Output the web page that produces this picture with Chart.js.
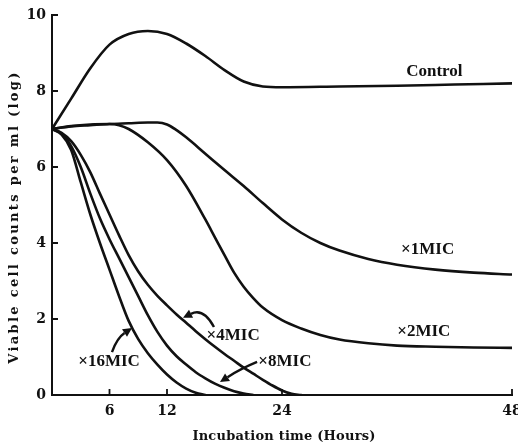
<!DOCTYPE html>
<html>
<head>
<meta charset="utf-8">
<script src="https://cdn.jsdelivr.net/npm/chart.js@4.4.1/dist/chart.umd.min.js"></script>
<style>
  html, body { margin: 0; padding: 0; background: #fff; }
  #wrap { width: 518px; height: 447px; }
</style>
</head>
<body>
<div id="wrap"><canvas id="c" width="518" height="447"></canvas></div>
<script>
// ---- data ----
const controlX = [0,2,4,6,8,10,12,14,16,18,20,22,24,30,36,42,48];
const controlY = [7,7.8,8.6,9.22,9.5,9.58,9.5,9.25,8.92,8.55,8.25,8.12,8.1,8.12,8.14,8.17,8.2];

const mic1X = [0,2,4,6,8,10,11,12,13,14,16,18,20,22,24,26,28,30,33,36,40,44,48];
const mic1Y = [7,7.07,7.1,7.13,7.15,7.17,7.17,7.12,6.97,6.78,6.35,5.92,5.5,5.05,4.62,4.27,4.0,3.8,3.58,3.43,3.3,3.22,3.17];

const mic2X = [0,2,4,6,7,8,10,12,14,16,17,18,19,20,21,22,24,26,28,30,33,36,40,44,48];
const mic2Y = [7,7.08,7.12,7.13,7.1,7.0,6.65,6.18,5.5,4.62,4.15,3.68,3.22,2.85,2.55,2.3,1.97,1.75,1.58,1.46,1.36,1.3,1.27,1.25,1.24];

const mic4X = [0,1,2,3,4,5,6,7,8,9,10,11,12,13,14,15,16,17,18,19,20,21,22,23,24,25,26];
const mic4Y = [7,6.9,6.68,6.32,5.86,5.3,4.75,4.2,3.68,3.25,2.9,2.61,2.36,2.12,1.9,1.68,1.47,1.27,1.08,0.9,0.72,0.56,0.4,0.25,0.12,0.03,0];

const mic8X = [0,1,2,3,4,5,6,7,8,9,10,11,12,13,14,15,16,17,18,19,20,21];
const mic8Y = [7,6.88,6.55,6.0,5.3,4.65,4.1,3.6,3.1,2.6,2.1,1.66,1.3,1.02,0.8,0.6,0.44,0.3,0.19,0.1,0.04,0];

const mic16X = [0,1,2,3,4,5,6,7,8,9,10,11,12,13,14,15,16];
const mic16Y = [7,6.85,6.45,5.6,4.75,4.0,3.3,2.6,1.95,1.47,1.1,0.8,0.54,0.33,0.17,0.06,0];

const xTicks = [6,12,24,48];
const yTicks = [0,2,4,6,8,10];

const curveLabels = ['Control','\u00d71MIC','\u00d72MIC','\u00d74MIC','\u00d78MIC','\u00d716MIC'];
const curveLabelX = [39.9, 39.2, 38.8, 18.9, 24.3, 5.95];
const curveLabelY = [8.5, 3.82, 1.66, 1.55, 0.89, 0.87];

// arrows: tail, control, head (data units)
const arrowTailX = [6.26, 16.9, 21.4];
const arrowTailY = [1.13, 1.79, 0.87];
const arrowCtrlX = [6.8, 15.8, 19.6];
const arrowCtrlY = [1.5, 2.3, 0.68];
const arrowHeadX = [8.35, 13.67, 17.53];
const arrowHeadY = [1.76, 2.03, 0.34];

const xTitle = 'Incubation time (Hours)';
const yTitle = 'Viable cell counts per ml (log)';

function pts(xs, ys) { return xs.map((x, i) => ({ x: x, y: ys[i] })); }

const INK = '#111';
const FONT = '"Liberation Serif", "DejaVu Serif", serif';
const FONT2 = '"DejaVu Serif", "Liberation Serif", serif';

function ds(label, xs, ys) {
  return {
    label: label,
    data: pts(xs, ys),
    borderColor: INK,
    borderWidth: 2.6,
    pointRadius: 0,
    fill: false,
    cubicInterpolationMode: 'monotone',
    borderCapStyle: 'round',
    borderJoinStyle: 'round'
  };
}

const decorPlugin = {
  id: 'decor',
  afterDraw(chart) {
    const ctx = chart.ctx;
    const xs = chart.scales.x, ys = chart.scales.y;
    const area = chart.chartArea;
    ctx.save();
    ctx.strokeStyle = INK;
    ctx.fillStyle = INK;
    // inside tick marks
    ctx.lineWidth = 1.8;
    ctx.beginPath();
    yTicks.forEach(v => {
      if (v === 0) return;
      const py = ys.getPixelForValue(v);
      ctx.moveTo(area.left, py);
      ctx.lineTo(area.left + 6, py);
    });
    xTicks.forEach(v => {
      const px = xs.getPixelForValue(v);
      ctx.moveTo(px, area.bottom);
      ctx.lineTo(px, area.bottom - 6);
    });
    ctx.stroke();

    // curve labels
    ctx.font = 'bold 17px ' + FONT;
    ctx.textAlign = 'center';
    ctx.textBaseline = 'middle';
    curveLabels.forEach((t, i) => {
      ctx.fillText(t, xs.getPixelForValue(curveLabelX[i]), ys.getPixelForValue(curveLabelY[i]));
    });

    // arrows
    ctx.lineWidth = 2.4;
    arrowTailX.forEach((_, i) => {
      const tx = xs.getPixelForValue(arrowTailX[i]), ty = ys.getPixelForValue(arrowTailY[i]);
      const cx = xs.getPixelForValue(arrowCtrlX[i]), cy = ys.getPixelForValue(arrowCtrlY[i]);
      const hx = xs.getPixelForValue(arrowHeadX[i]), hy = ys.getPixelForValue(arrowHeadY[i]);
      const ang = Math.atan2(hy - cy, hx - cx);
      const L = 9, W = 4.5;
      const bx = hx - L * Math.cos(ang), by = hy - L * Math.sin(ang);
      ctx.beginPath();
      ctx.moveTo(tx, ty);
      ctx.quadraticCurveTo(cx, cy, bx, by);
      ctx.stroke();
      ctx.beginPath();
      ctx.moveTo(hx, hy);
      ctx.lineTo(bx + W * Math.sin(ang), by - W * Math.cos(ang));
      ctx.lineTo(bx - W * Math.sin(ang), by + W * Math.cos(ang));
      ctx.closePath();
      ctx.fill();
    });

    // axis titles with letter spacing
    function spaced(text, target) {
      ctx.letterSpacing = '0px';
      const w = ctx.measureText(text).width;
      const sp = (target - w) / (text.length - 1);
      ctx.letterSpacing = sp.toFixed(2) + 'px';
    }
    ctx.font = 'bold 13px ' + FONT2;
    ctx.textAlign = 'center';
    ctx.textBaseline = 'middle';
    spaced(xTitle, 183);
    ctx.fillText(xTitle, (area.left + area.right) / 2 + 2, 437);
    ctx.save();
    ctx.translate(15, 217);
    ctx.rotate(-Math.PI / 2);
    spaced(yTitle, 291);
    ctx.fillText(yTitle, 0, 0);
    ctx.restore();
    ctx.letterSpacing = '0px';
    ctx.restore();
  }
};

new Chart(document.getElementById('c'), {
  type: 'line',
  data: {
    datasets: [
      ds('Control', controlX, controlY),
      ds('x1MIC', mic1X, mic1Y),
      ds('x2MIC', mic2X, mic2Y),
      ds('x4MIC', mic4X, mic4Y),
      ds('x8MIC', mic8X, mic8Y),
      ds('x16MIC', mic16X, mic16Y)
    ]
  },
  options: {
    responsive: false,
    animation: false,
    devicePixelRatio: 1,
    layout: { padding: { top: 15, right: 6, left: 0, bottom: 0 } },
    plugins: { legend: { display: false }, tooltip: { enabled: false } },
    scales: {
      x: {
        type: 'linear',
        min: 0, max: 48,
        afterBuildTicks(s) { s.ticks = xTicks.map(v => ({ value: v })); },
        afterFit(s) { s.height = 52; s.paddingLeft = 0; s.paddingRight = 0; },
        grid: { display: true, drawOnChartArea: false, drawTicks: false },
        border: { display: true, color: INK, width: 2 },
        ticks: { color: INK, padding: 8, maxRotation: 0, autoSkip: false,
                 font: { family: FONT2, size: 14, weight: 'bold' } }
      },
      y: {
        min: 0, max: 10,
        afterBuildTicks(s) { s.ticks = yTicks.map(v => ({ value: v })); },
        afterFit(s) { s.width = 52; s.paddingTop = 0; s.paddingBottom = 0; },
        grid: { display: true, drawOnChartArea: false, drawTicks: false },
        border: { display: true, color: INK, width: 2 },
        ticks: { color: INK, padding: 6, autoSkip: false,
                 font: { family: FONT2, size: 14, weight: 'bold' } }
      }
    }
  },
  plugins: [decorPlugin]
});
</script>
</body>
</html>
